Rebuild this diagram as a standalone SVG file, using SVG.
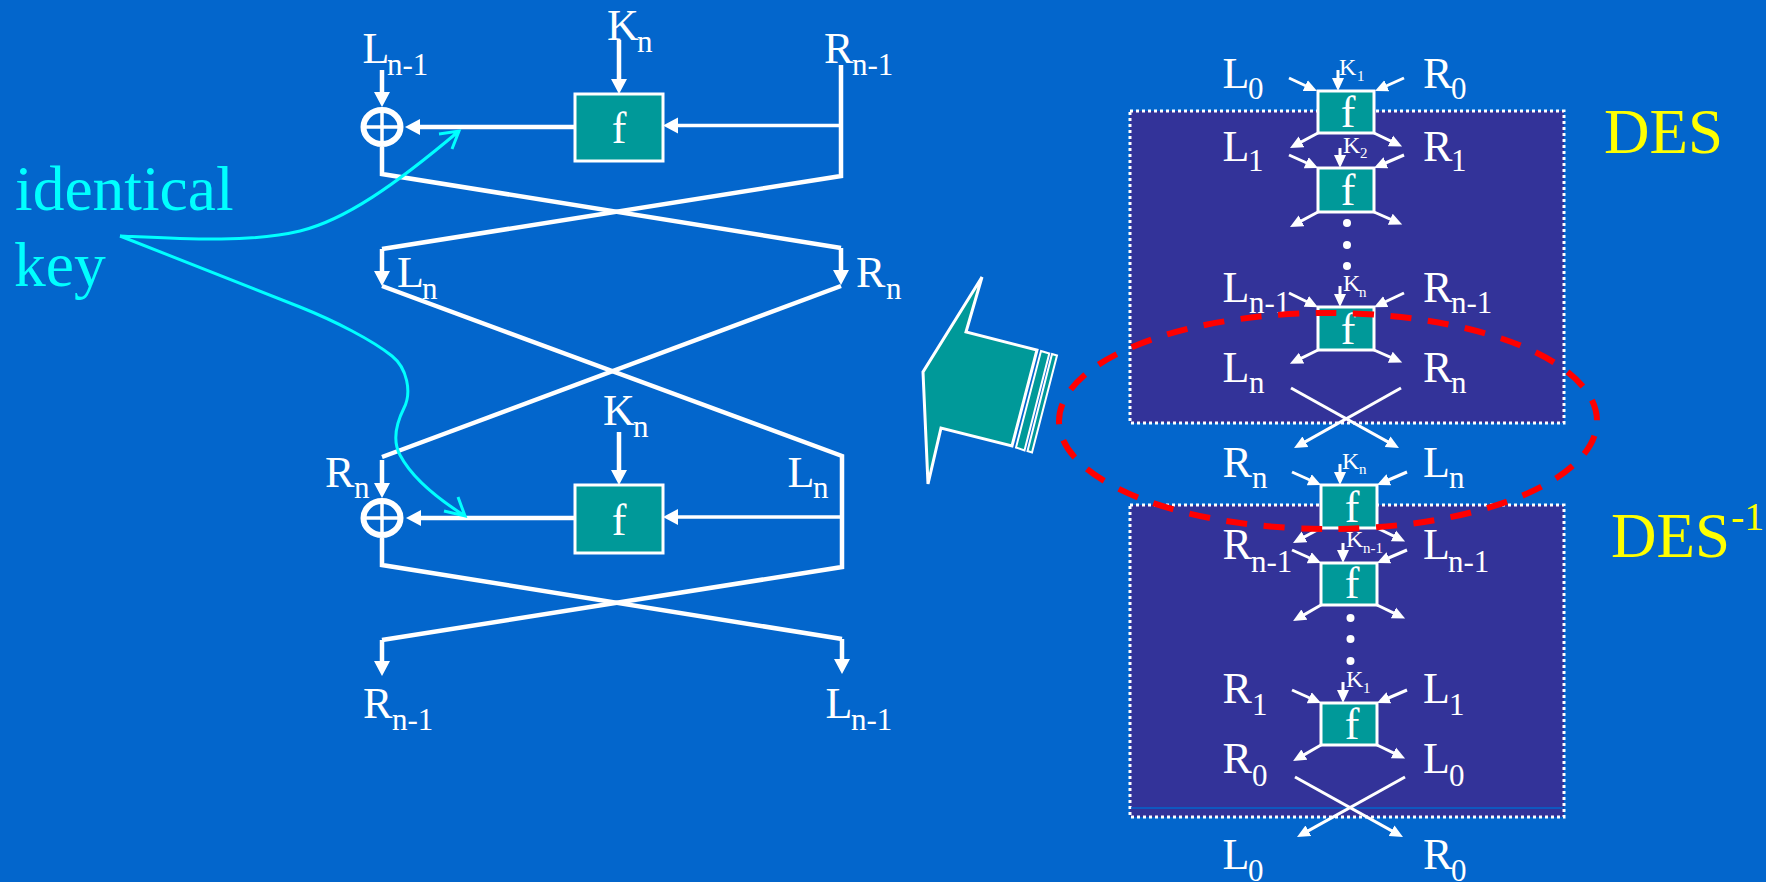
<svg xmlns="http://www.w3.org/2000/svg" width="1766" height="882" viewBox="0 0 1766 882">
<style>
text{font-family:"Liberation Serif","Times New Roman",serif;fill:#fff}
.m{font-size:44px}.s{font-size:31px}
.k{font-size:24px}.ks{font-size:15px}
.f{font-size:44px;text-anchor:middle}
.y{fill:#ff0;font-size:63px}.ysup{font-size:40px}
.c{fill:#0ff;font-size:63.500px}
.box{fill:#099;stroke:#fff;stroke-width:3}
.region{fill:#339;stroke:#fff;stroke-width:3;stroke-dasharray:3 3}
.w4{fill:none;stroke:#fff;stroke-width:4.500}
.w3{fill:none;stroke:#fff;stroke-width:3.500}
.w2{fill:none;stroke:#fff;stroke-width:3}
.big{marker-end:url(#big)}.sm{marker-end:url(#sm)}
.cy{fill:none;stroke:#0ff;stroke-width:3}
.xor{fill:none;stroke:#fff;stroke-width:6}
.xl{fill:none;stroke:#fff;stroke-width:3.500}
.arrowfill{fill:#099;stroke:#fff;stroke-width:3;stroke-linejoin:miter}
.strip{fill:#099;stroke:#fff;stroke-width:2}
</style>
<defs>
<marker id="big" markerUnits="userSpaceOnUse" markerWidth="16" markerHeight="18" viewBox="0 0 16 18" refX="5" refY="9" orient="auto"><path d="M0 1L15 9L0 17z" fill="#fff"/></marker>
<marker id="sm" markerUnits="userSpaceOnUse" markerWidth="14" markerHeight="14" viewBox="0 0 14 14" refX="8" refY="7" orient="auto"><path d="M0 1L13 7L0 13z" fill="#fff"/></marker>
</defs>
<rect width="1766" height="882" fill="#0366cc"/>

<g id="des-region"><rect class="region" x="1130" y="111" width="434" height="312"/></g>
<g id="des-inv-region"><rect class="region" x="1130" y="505" width="434" height="312"/><line x1="1131" y1="808" x2="1563" y2="808" stroke="#0366cc" stroke-width="1.500"/></g>

<g id="connectors">
<path class="w4 big" d="M382 70V97"/>
<path class="w4 big" d="M619 40V84"/>
<path class="w4 big" d="M575 127H415"/>
<path class="w3 big" d="M841 125.500H673"/>
<path class="w4" d="M382 147V174L841 248"/>
<path class="w4 big" d="M841 248V275"/>
<path class="w4" d="M841 65V176L382 249"/>
<path class="w4 big" d="M382 249V276"/>
<path class="w4" d="M382 286L842 456V567L382 640"/>
<path class="w4 big" d="M382 640V666"/>
<path class="w4" d="M841 286L382 457"/>
<path class="w4 big" d="M382 460V488"/>
<path class="w4 big" d="M619 432V475"/>
<path class="w4 big" d="M575 518H416"/>
<path class="w3 big" d="M842 517H673"/>
<path class="w4" d="M382 538V565L842 639"/>
<path class="w4 big" d="M842 639V664"/>
<path class="w2 sm" d="M1289 78L1312.500 89"/><path class="w2 sm" d="M1404 78L1379.500 89"/><path class="w2 sm" d="M1338 70V86"/>
<path class="w2 sm" d="M1318 133L1294.400 145.600"/><path class="w2 sm" d="M1374 133L1397.600 144.400"/>
<path class="w2 sm" d="M1289 155L1313.500 166"/><path class="w2 sm" d="M1404 155L1378.500 166"/><path class="w2 sm" d="M1340 148V163"/>
<path class="w2 sm" d="M1318 212L1294.400 224.600"/><path class="w2 sm" d="M1374 212L1397.600 222.400"/>
<path class="w2 sm" d="M1289 293L1313.500 305"/><path class="w2 sm" d="M1404 293L1378.500 305"/><path class="w2 sm" d="M1340 286V302"/>
<path class="w2 sm" d="M1318 350L1294.400 361.600"/><path class="w2 sm" d="M1374 350L1397.600 360.400"/>
<path class="w2 sm" d="M1291 388L1394.600 445.600"/><path class="w2 sm" d="M1401 388L1298.400 445.600"/>
<path class="w2 sm" d="M1292 472L1316.500 483"/><path class="w2 sm" d="M1407 472L1381.500 483"/><path class="w2 sm" d="M1340 464V480"/>
<path class="w2 sm" d="M1321 528L1297.400 540.600"/><path class="w2 sm" d="M1377 528L1400.600 539.400"/>
<path class="w2 sm" d="M1292 550L1316.500 561"/><path class="w2 sm" d="M1407 550L1381.500 561"/><path class="w2 sm" d="M1343 543V558"/>
<path class="w2 sm" d="M1321 605L1297.400 618.600"/><path class="w2 sm" d="M1377 605L1400.600 616.400"/>
<path class="w2 sm" d="M1292 690L1316.500 701"/><path class="w2 sm" d="M1407 690L1381.500 701"/><path class="w2 sm" d="M1343 682V698"/>
<path class="w2 sm" d="M1321 745L1297.400 758.600"/><path class="w2 sm" d="M1377 745L1400.600 756.400"/>
<path class="w2 sm" d="M1295 777L1398.600 834.600"/><path class="w2 sm" d="M1405 777L1301.400 834.600"/>
<path class="cy" d="M120 236C185 239 250 243 300 231C345 220 395 185 459 131M439 134L459 131L452 149"/>
<path class="cy" d="M120 236L300 307C335 321 372 340 392 356C407 368 412 392 404 408C396 424 392 440 400 455C412 478 435 497 465 516M458 497L465 516L444 511"/>
</g>

<g id="xor-1"><ellipse class="xor" cx="382" cy="127" rx="18.500" ry="17"/><path class="xl" d="M382 110V144M363 127H401"/></g>
<g id="xor-2"><ellipse class="xor" cx="382" cy="518" rx="18.500" ry="17"/><path class="xl" d="M382 501V535M363 518H401"/></g>
<g id="f-left-1"><rect class="box" x="575" y="94" width="88" height="67"/><text class="f" x="619" y="143">f</text></g>
<g id="f-left-2"><rect class="box" x="575" y="485" width="88" height="68"/><text class="f" x="619" y="535">f</text></g>

<g id="labels-left">
<text class="m" x="362.500" y="63">L<tspan class="s" x="387" y="75">n-1</tspan></text>
<text class="m" x="607" y="40">K<tspan class="s" x="637" y="52">n</tspan></text>
<text class="m" x="824" y="63">R<tspan class="s" x="852" y="75">n-1</tspan></text>
<text class="m" x="397" y="287">L<tspan class="s" x="422" y="299">n</tspan></text>
<text class="m" x="856" y="287">R<tspan class="s" x="886" y="299">n</tspan></text>
<text class="m" x="603" y="425">K<tspan class="s" x="633" y="437">n</tspan></text>
<text class="m" x="325" y="487">R<tspan class="s" x="354" y="498">n</tspan></text>
<text class="m" x="787.500" y="487">L<tspan class="s" x="813" y="498">n</tspan></text>
<text class="m" x="363" y="718">R<tspan class="s" x="392" y="730">n-1</tspan></text>
<text class="m" x="825.500" y="718">L<tspan class="s" x="851" y="730">n-1</tspan></text>
<text class="c" x="15" y="210">identical</text>
<text class="c" x="14" y="286">key</text>
</g>

<g id="big-arrow">
<path class="arrowfill" d="M982 277L923 372L928 484L941 428L1012 446L1037 350L966 332Z"/>
<path class="strip" d="M1041 351L1049.300 353.500L1024.500 450.500L1016 447.500Z"/>
<path class="strip" d="M1052 354L1057 355.500L1032 452.500L1027.500 451Z"/>
</g>

<g id="f-1"><rect class="box" x="1318" y="91" width="56" height="42"/><text class="f" x="1348" y="127">f</text></g>
<g id="f-2"><rect class="box" x="1318" y="168" width="56" height="44"/><text class="f" x="1348" y="205">f</text></g>
<g id="f-3"><rect class="box" x="1318" y="307" width="56" height="43"/><text class="f" x="1348" y="344">f</text></g>
<g id="f-4"><rect class="box" x="1321" y="485" width="56" height="43"/><text class="f" x="1352" y="522">f</text></g>
<g id="f-5"><rect class="box" x="1321" y="563" width="56" height="42"/><text class="f" x="1352" y="598">f</text></g>
<g id="f-6"><rect class="box" x="1321" y="703" width="56" height="42"/><text class="f" x="1352" y="739">f</text></g>

<g id="dots" fill="#fff">
<circle cx="1347" cy="223" r="4"/><circle cx="1347" cy="245" r="4"/><circle cx="1347" cy="266" r="4"/>
<circle cx="1350.500" cy="618" r="4"/><circle cx="1350.500" cy="639" r="4"/><circle cx="1350.500" cy="661" r="4"/>
</g>

<g id="labels-right">
<text class="m" x="1222.500" y="88">L<tspan class="s" x="1248" y="99">0</tspan></text>
<text class="m" x="1423" y="88">R<tspan class="s" x="1451" y="99">0</tspan></text>
<text class="k" x="1339" y="75">K<tspan class="ks" x="1357" y="81">1</tspan></text>
<text class="m" x="1222.500" y="161">L<tspan class="s" x="1248" y="171">1</tspan></text>
<text class="m" x="1423" y="161">R<tspan class="s" x="1451" y="171">1</tspan></text>
<text class="k" x="1343" y="153">K<tspan class="ks" x="1360" y="158">2</tspan></text>
<text class="m" x="1222.500" y="302">L<tspan class="s" x="1249" y="313">n-1</tspan></text>
<text class="m" x="1423" y="302">R<tspan class="s" x="1451" y="313">n-1</tspan></text>
<text class="k" x="1343" y="291">K<tspan class="ks" x="1359" y="297">n</tspan></text>
<text class="m" x="1222.500" y="382">L<tspan class="s" x="1249" y="393">n</tspan></text>
<text class="m" x="1423" y="382">R<tspan class="s" x="1451" y="393">n</tspan></text>
<text class="m" x="1222.500" y="477">R<tspan class="s" x="1252" y="488">n</tspan></text>
<text class="m" x="1423" y="477">L<tspan class="s" x="1449" y="488">n</tspan></text>
<text class="k" x="1342" y="469">K<tspan class="ks" x="1359" y="474">n</tspan></text>
<text class="m" x="1222.500" y="559">R<tspan class="s" x="1251" y="572">n-1</tspan></text>
<text class="m" x="1423" y="559">L<tspan class="s" x="1448" y="572">n-1</tspan></text>
<text class="k" x="1346" y="547">K<tspan class="ks" x="1363" y="553">n-1</tspan></text>
<text class="m" x="1222.500" y="703">R<tspan class="s" x="1252" y="715">1</tspan></text>
<text class="m" x="1423" y="703">L<tspan class="s" x="1449" y="715">1</tspan></text>
<text class="k" x="1346" y="687">K<tspan class="ks" x="1363" y="693">1</tspan></text>
<text class="m" x="1222.500" y="773">R<tspan class="s" x="1252" y="786">0</tspan></text>
<text class="m" x="1423" y="773">L<tspan class="s" x="1449" y="786">0</tspan></text>
<text class="m" x="1222.500" y="869">L<tspan class="s" x="1248" y="881">0</tspan></text>
<text class="m" x="1423" y="869">R<tspan class="s" x="1451" y="881">0</tspan></text>
<text class="y" x="1604" y="153">DES</text>
<text class="y" x="1611" y="557">DES<tspan class="ysup" x="1731" y="530">-1</tspan></text>
</g>

<g id="red-ellipse"><ellipse cx="1328" cy="421" rx="269" ry="108" fill="none" stroke="#f00" stroke-width="6" stroke-dasharray="21 16.550" stroke-dashoffset="22.350"/></g>
</svg>
